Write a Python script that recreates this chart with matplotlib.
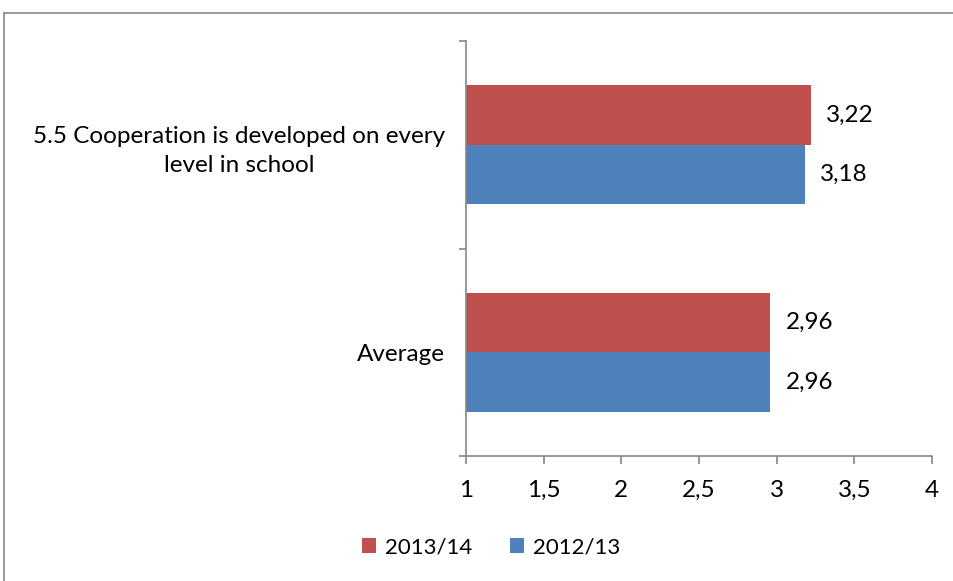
import matplotlib.pyplot as plt
from matplotlib.lines import Line2D

# data
categories = ["Average", "5.5 Cooperation is developed on every\nlevel in school"]
series_names = ["2013/14", "2012/13"]
values_2013 = [2.96, 3.22]
values_2012 = [2.96, 3.18]
colors = ["#C0504D", "#4F81BD"]
x_ticks = [1, 1.5, 2, 2.5, 3, 3.5, 4]

plt.rcParams["font.family"] = ["Lato", "DejaVu Sans"]
fs = 17.5

fig = plt.figure(figsize=(9.54, 5.81), dpi=100)
ax = fig.add_axes([466 / 954, 1 - 456 / 581, (932 - 466) / 954, (456 - 41) / 581])

# chart-area frame (left and top edges)
fx, fy = 4.5 / 954, 1 - 12.5 / 581
fig.lines.append(Line2D([fx, fx], [0, fy], transform=fig.transFigure,
                        color="#868686", linewidth=1.2))
fig.lines.append(Line2D([fx, 1], [fy, fy], transform=fig.transFigure,
                        color="#868686", linewidth=1.2))

h = 0.286
pos = list(range(len(categories)))
for vals, off, col, name in [(values_2013, h / 2, colors[0], series_names[0]),
                             (values_2012, -h / 2, colors[1], series_names[1])]:
    ys = [p + off for p in pos]
    ax.barh(ys, vals, height=h, color=col, label=name)
    for y, v in zip(ys, vals):
        ax.text(v + 0.1, y, f"{v:.2f}".replace(".", ","), va="center",
                ha="left", fontsize=fs)

ax.set_xlim(1, 4)
ax.set_ylim(-0.5, 1.5)
ax.set_xticks(x_ticks)
ax.set_xticklabels([f"{t:g}".replace(".", ",") for t in x_ticks], fontsize=fs)
ax.set_yticks(pos)
ax.set_yticklabels(categories, fontsize=fs, multialignment="center",
                   linespacing=1.5)
ax.set_yticks([-0.5, 0.5, 1.5], minor=True)

for s in ["top", "right"]:
    ax.spines[s].set_visible(False)
for s in ["left", "bottom"]:
    ax.spines[s].set_color("#868686")
    ax.spines[s].set_linewidth(1.2)
ax.tick_params(axis="y", which="major", length=0, pad=15)
ax.tick_params(axis="y", which="minor", length=5, color="#868686", width=1.2)
ax.tick_params(axis="x", length=6, color="#868686", width=1.2, pad=11)

handles, labels = ax.get_legend_handles_labels()
fig.legend(handles, labels, loc="center", bbox_to_anchor=(491 / 954, 1 - 547 / 581),
           ncol=2, frameon=False, fontsize=16, handlelength=0.65, handleheight=0.65,
           handletextpad=0.4, columnspacing=1.7)

fig.savefig("out.png", dpi=100)
